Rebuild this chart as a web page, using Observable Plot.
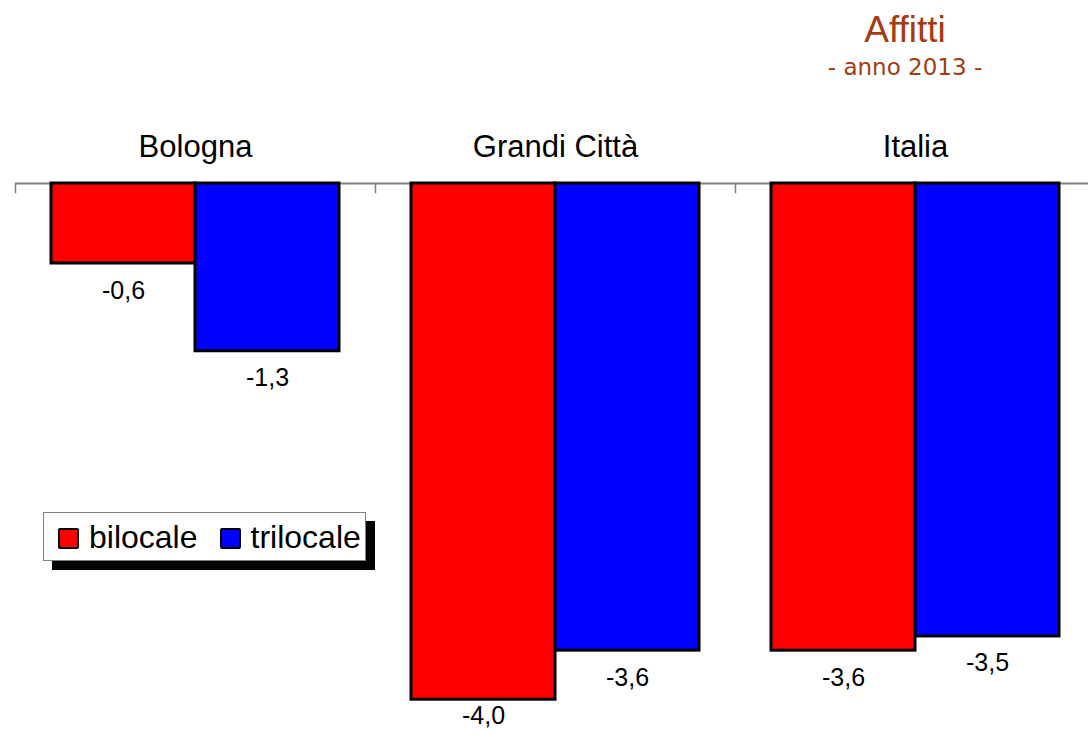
<!DOCTYPE html>
<html>
<head>
<meta charset="utf-8">
<script src="https://cdn.jsdelivr.net/npm/d3@7"></script>
<script src="https://cdn.jsdelivr.net/npm/@observablehq/plot@0.6"></script>
<style>
  html, body { margin: 0; padding: 0; background: #fff; overflow: hidden; width: 1088px; height: 735px; }
  #wrap { position: relative; width: 1088px; height: 735px; overflow: hidden; font-family: "Liberation Sans", Arial, sans-serif; }
  #title { position: absolute; left: 805px; width: 200px; top: 11px; text-align: center; font: 37px/37px "Liberation Sans", Arial, sans-serif; color: #a33c10; }
  #subtitle { position: absolute; left: 805px; width: 200px; top: 56px; text-align: center; font: 23px/23px "DejaVu Sans", sans-serif; color: #a33c10; white-space: nowrap; }
  #legend { position: absolute; left: 43px; top: 512px; width: 321px; height: 47px; border: 1px solid #808080; background: #fff; box-shadow: 9px 9px 0 #000; display: flex; align-items: center; box-sizing: content-box; font: 32px/32px "Liberation Sans", Arial, sans-serif; color: #000; }
  .sw { width: 17px; height: 17px; border: 2px solid #000; border-radius: 2px; margin-top: 3px; }
  .lab { margin-left: 10px; }
  #chart { position: absolute; left: 0; top: 0; width: 1095px; height: 735px; }
  #chart svg { max-width: none !important; width: 1095px; height: 735px; display: block; }
</style>
</head>
<body>
<div id="wrap">
  <div id="chart"></div>
  <div id="title"></div>
  <div id="subtitle"></div>
  <div id="legend"></div>
</div>
<script>
const titleText = "Affitti";
const subtitleText = "- anno 2013 -";
const groups = ["Bologna", "Grandi Città", "Italia"];
const series = ["bilocale", "trilocale"];
const colors = ["#ff0000", "#0000ff"];
const bilocale = [-0.62, -4.00, -3.62];
const trilocale = [-1.30, -3.62, -3.51];

const data = [];
groups.forEach((g, i) => {
  data.push({group: g, series: series[0], value: bilocale[i]});
  data.push({group: g, series: series[1], value: trilocale[i]});
});
const fmt = v => d3.format(".1f")(v).replace(".", ",").replace("−", "-");

document.getElementById("title").textContent = titleText;
document.getElementById("subtitle").textContent = subtitleText;

const legend = document.getElementById("legend");
series.forEach((s, i) => {
  const sw = document.createElement("div");
  sw.className = "sw";
  sw.style.background = colors[i];
  sw.style.marginLeft = i === 0 ? "14px" : "22px";
  const lab = document.createElement("span");
  lab.className = "lab";
  lab.textContent = s;
  legend.appendChild(sw);
  legend.appendChild(lab);
});

// labels are kept inside the plotting area (as the original does for the deepest bar)
const labelFloor = -3.92;

const chart = Plot.plot({
  width: 1095,
  height: 735,
  marginTop: 183,
  marginBottom: 10,
  marginLeft: 14,
  marginRight: 0,
  style: {fontFamily: "'Liberation Sans', Arial, sans-serif", background: "transparent", overflow: "visible", maxWidth: "none"},
  fx: {domain: groups, padding: 0, axis: null},
  x: {domain: series, paddingInner: 0, paddingOuter: 0.245, axis: null},
  y: {domain: [-4.2, 0], axis: null},
  color: {domain: series, range: colors},
  marks: [
    Plot.ruleY([0], {stroke: "#808080", strokeWidth: 2}),
    Plot.frame({anchor: "left", stroke: "#808080", strokeWidth: 1.5, insetBottom: 533}),
    Plot.barY(data, {fx: "group", x: "series", y: "value", fill: "series", stroke: "#000", strokeWidth: 3}),
    Plot.text(data, {fx: "group", x: "series", y: d => Math.max(d.value, labelFloor), text: d => fmt(d.value), dy: 27, fontSize: 25, fill: "#000"}),
    Plot.text(groups, {fx: d => d, text: d => d, frameAnchor: "top", dy: -49, fontSize: 31, fill: "#000"})
  ]
});
chart.style.maxWidth = "none";
document.getElementById("chart").appendChild(chart);
</script>
</body>
</html>
